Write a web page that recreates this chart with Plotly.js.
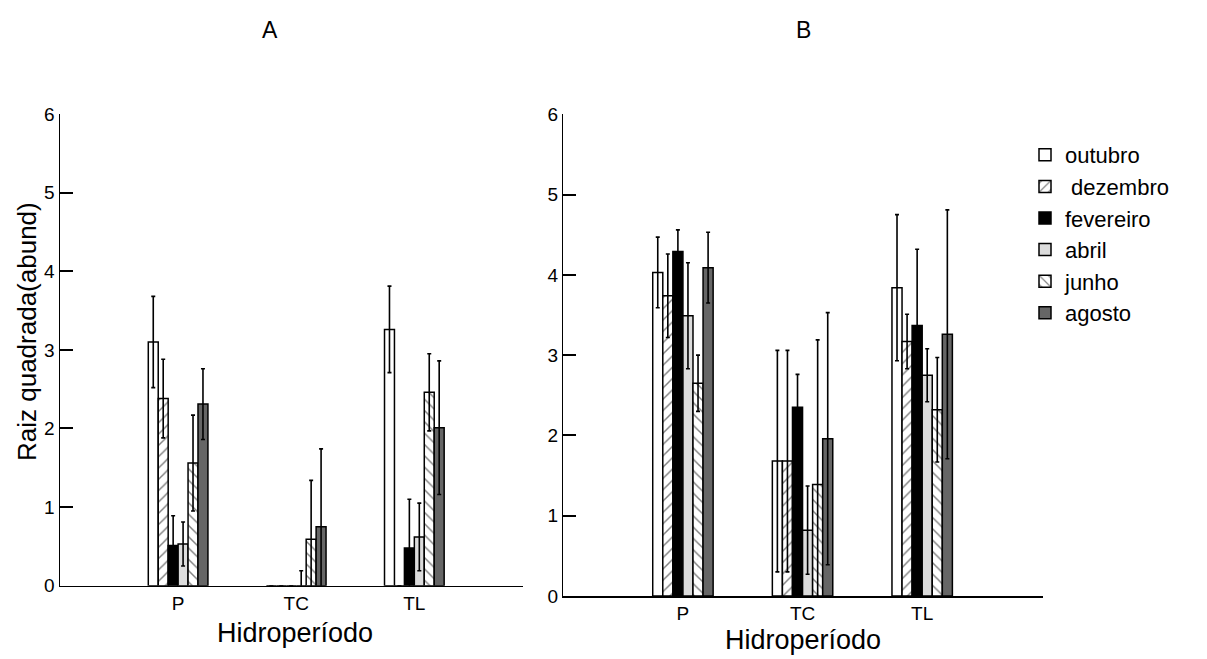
<!DOCTYPE html>
<html>
<head>
<meta charset="utf-8">
<script src="https://cdn.plot.ly/plotly-3.0.1.min.js"></script>
<style>html,body{margin:0;padding:0;background:#fff;}#chart{width:1207px;height:659px;}</style>
</head>
<body>
<div id="chart"></div>
<script>
// Categories (hydroperiod)
const categories = ["P", "TC", "TL"];
const months = ["outubro", "\u00a0dezembro", "fevereiro", "abril", "junho", "agosto"];

// Panel A: mean values and error (± half-length) per month, order P, TC, TL
const A_outubro   = [3.10, 0, 3.26];
const A_dezembro  = [2.38, 0, 0];
const A_fevereiro = [0.51, 0, 0.48];
const A_abril     = [0.53, 0, 0.62];
const A_junho     = [1.56, 0.59, 2.46];
const A_agosto    = [2.31, 0.75, 2.01];

const A_err_outubro   = [0.58, 0, 0.55];
const A_err_dezembro  = [0.50, 0, 0];
const A_err_fevereiro = [0.38, 0, 0.62];
const A_err_abril     = [0.28, 0.19, 0.43];
const A_err_junho     = [0.61, 0.75, 0.49];
const A_err_agosto    = [0.45, 0.99, 0.85];

// Panel B
const B_outubro   = [4.03, 1.68, 3.84];
const B_dezembro  = [3.74, 1.68, 3.17];
const B_fevereiro = [4.29, 2.35, 3.37];
const B_abril     = [3.49, 0.82, 2.75];
const B_junho     = [2.65, 1.39, 2.32];
const B_agosto    = [4.09, 1.96, 3.26];

const B_err_outubro   = [0.44, 1.38, 0.91];
const B_err_dezembro  = [0.52, 1.38, 0.34];
const B_err_fevereiro = [0.27, 0.41, 0.95];
const B_err_abril     = [0.66, 0.55, 0.33];
const B_err_junho     = [0.35, 1.80, 0.65];
const B_err_agosto    = [0.44, 1.57, 1.55];

const yTicks = [0, 1, 2, 3, 4, 5, 6];

const A_vals = [A_outubro, A_dezembro, A_fevereiro, A_abril, A_junho, A_agosto];
const A_errs = [A_err_outubro, A_err_dezembro, A_err_fevereiro, A_err_abril, A_err_junho, A_err_agosto];
const B_vals = [B_outubro, B_dezembro, B_fevereiro, B_abril, B_junho, B_agosto];
const B_errs = [B_err_outubro, B_err_dezembro, B_err_fevereiro, B_err_abril, B_err_junho, B_err_agosto];

const styles = [
  {color: "#ffffff", pattern: {shape: ""}},
  {color: "#ffffff", pattern: {shape: "/", fgcolor: "#000000", bgcolor: "#ffffff", size: 8, solidity: 0.18, fillmode: "overlay"}},
  {color: "#000000", pattern: {shape: ""}},
  {color: "#dcdcdc", pattern: {shape: ""}},
  {color: "#ffffff", pattern: {shape: "\\", fgcolor: "#000000", bgcolor: "#ffffff", size: 8, solidity: 0.18, fillmode: "overlay"}},
  {color: "#666666", pattern: {shape: ""}}
];

const FONT = "Liberation Sans, Arial, sans-serif";
const traces = [];
function addPanel(vals, errs, xa, ya, showLeg) {
  for (let i = 0; i < months.length; i++) {
    traces.push({
      type: "bar",
      x: categories,
      y: vals[i],
      name: months[i],
      xaxis: xa, yaxis: ya,
      legendgroup: "g" + i,
      showlegend: showLeg,
      marker: {color: styles[i].color, pattern: styles[i].pattern, line: {color: "#000000", width: 1.5}},
      error_y: {type: "data", array: errs[i], visible: true, color: "#000000", thickness: 1.6, width: 2},
      hoverinfo: "x+y+name"
    });
  }
}
addPanel(A_vals, A_errs, "x", "y", false);
addPanel(B_vals, B_errs, "x2", "y2", true);

const W = 1207, H = 659;
function px(x) { return x / W; }
function py(y) { return 1 - y / H; }

const yaxisBase = {
  range: [0, 6], tickvals: yTicks,
  ticks: "inside", ticklen: 13, tickwidth: 2, tickcolor: "#000000",
  showline: true, linewidth: 1.5, linecolor: "#000", layer: "above traces",
  showgrid: false, zeroline: false,
  tickfont: {family: FONT, size: 19, color: "#000"}
};
const xaxisBase = {
  type: "category", showline: true, linewidth: 1.5, linecolor: "#000",
  ticks: "", showgrid: false, zeroline: false,
  tickfont: {family: FONT, size: 19, color: "#000"}
};

const layout = {
  width: W, height: H,
  margin: {l: 0, r: 0, t: 0, b: 0},
  paper_bgcolor: "#ffffff", plot_bgcolor: "rgba(0,0,0,0)",
  barmode: "group", bargap: 0.495, bargroupgap: 0,
  font: {family: FONT, color: "#000"},
  xaxis: Object.assign({}, xaxisBase, {domain: [px(60), px(523)], range: [-1, 2.92], anchor: "y"}),
  yaxis: Object.assign({}, yaxisBase, {domain: [py(585.7), py(114)], anchor: "x"}),
  xaxis2: Object.assign({}, xaxisBase, {domain: [px(563.3), px(1043)], range: [-1, 3.01], anchor: "y2"}),
  yaxis2: Object.assign({}, yaxisBase, {domain: [py(596), py(114.3)], anchor: "x2"}),
  legend: {
    x: px(1025), y: py(134), xanchor: "left", yanchor: "top",
    font: {family: FONT, size: 22, color: "#000"},
    tracegroupgap: 0, bgcolor: "rgba(0,0,0,0)", borderwidth: 0
  },
  annotations: [
    {text: "A", x: px(270), y: py(30), xref: "paper", yref: "paper", showarrow: false, xanchor: "center", yanchor: "middle", font: {family: FONT, size: 23, color: "#000"}},
    {text: "B", x: px(803), y: py(30), xref: "paper", yref: "paper", showarrow: false, xanchor: "center", yanchor: "middle", font: {family: FONT, size: 23, color: "#000"}},
    {text: "Raiz quadrada(abund)", x: px(27), y: py(332), xref: "paper", yref: "paper", showarrow: false, textangle: -90, xanchor: "center", yanchor: "middle", font: {family: FONT, size: 26, color: "#000"}},
    {text: "Hidroperíodo", x: px(295), y: py(633), xref: "paper", yref: "paper", showarrow: false, xanchor: "center", yanchor: "middle", font: {family: FONT, size: 27, color: "#000"}},
    {text: "Hidroperíodo", x: px(803), y: py(640), xref: "paper", yref: "paper", showarrow: false, xanchor: "center", yanchor: "middle", font: {family: FONT, size: 27, color: "#000"}}
  ]
};

Plotly.newPlot("chart", traces, layout, {displayModeBar: false, staticPlot: true});
</script>
</body>
</html>
